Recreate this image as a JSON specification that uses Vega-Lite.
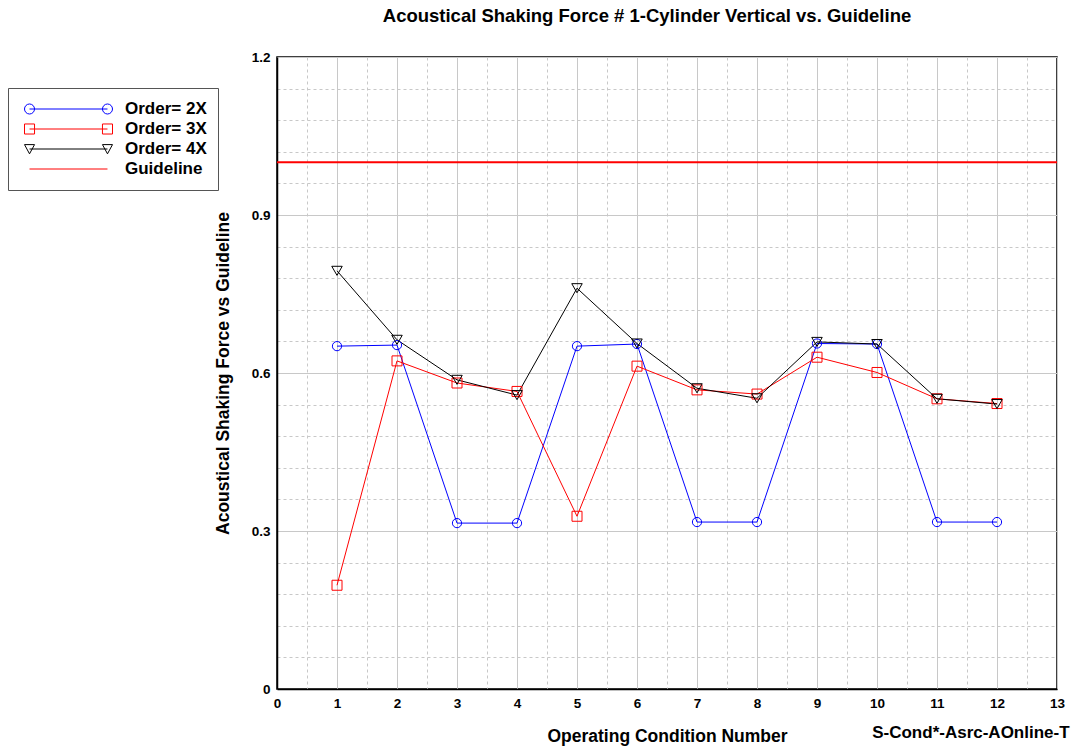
{
  "$schema": "https://vega.github.io/schema/vega-lite/v6.json",
  "width": 780,
  "height": 632,
  "autosize": {"type": "none"},
  "padding": {"left": 277, "top": 57, "right": 14, "bottom": 62},
  "background": "white",
  "title": {
    "text": "Acoustical Shaking Force # 1-Cylinder Vertical vs. Guideline",
    "font": "Liberation Sans",
    "fontSize": 18.5,
    "fontWeight": "bold",
    "color": "black",
    "anchor": "middle",
    "dx": -20,
    "offset": 25
  },
  "config": {
    "view": {"stroke": "black", "strokeWidth": 1.5},
    "axis": {
      "labelFont": "Liberation Sans",
      "labelFontWeight": "bold",
      "labelFontSize": 13.5,
      "labelColor": "black",
      "titleFont": "Liberation Sans",
      "titleFontWeight": "bold",
      "titleFontSize": 17.5,
      "titleColor": "black",
      "domainColor": "black",
      "domainWidth": 1.5,
      "ticks": false,
      "gridColor": "#c8c8c8",
      "gridWidth": 1,
      "labelOverlap": false,
      "labelFlush": false,
      "tickCount": 200
    },
    "legend": {
      "labelFont": "Liberation Sans",
      "labelFontWeight": "bold",
      "labelFontSize": 17,
      "labelColor": "black"
    }
  },
  "datasets": {
    "main": [
      {"cond": 1, "series": "Order= 2X", "value": 0.651},
      {"cond": 2, "series": "Order= 2X", "value": 0.653},
      {"cond": 3, "series": "Order= 2X", "value": 0.315},
      {"cond": 4, "series": "Order= 2X", "value": 0.315},
      {"cond": 5, "series": "Order= 2X", "value": 0.651},
      {"cond": 6, "series": "Order= 2X", "value": 0.655},
      {"cond": 7, "series": "Order= 2X", "value": 0.317},
      {"cond": 8, "series": "Order= 2X", "value": 0.317},
      {"cond": 9, "series": "Order= 2X", "value": 0.656},
      {"cond": 10, "series": "Order= 2X", "value": 0.655},
      {"cond": 11, "series": "Order= 2X", "value": 0.317},
      {"cond": 12, "series": "Order= 2X", "value": 0.317},
      {"cond": 1, "series": "Order= 3X", "value": 0.197},
      {"cond": 2, "series": "Order= 3X", "value": 0.623},
      {"cond": 3, "series": "Order= 3X", "value": 0.581},
      {"cond": 4, "series": "Order= 3X", "value": 0.565},
      {"cond": 5, "series": "Order= 3X", "value": 0.328},
      {"cond": 6, "series": "Order= 3X", "value": 0.613},
      {"cond": 7, "series": "Order= 3X", "value": 0.568},
      {"cond": 8, "series": "Order= 3X", "value": 0.560},
      {"cond": 9, "series": "Order= 3X", "value": 0.630},
      {"cond": 10, "series": "Order= 3X", "value": 0.601},
      {"cond": 11, "series": "Order= 3X", "value": 0.551},
      {"cond": 12, "series": "Order= 3X", "value": 0.542},
      {"cond": 1, "series": "Order= 4X", "value": 0.794},
      {"cond": 2, "series": "Order= 4X", "value": 0.663},
      {"cond": 3, "series": "Order= 4X", "value": 0.587},
      {"cond": 4, "series": "Order= 4X", "value": 0.558},
      {"cond": 5, "series": "Order= 4X", "value": 0.761},
      {"cond": 6, "series": "Order= 4X", "value": 0.656},
      {"cond": 7, "series": "Order= 4X", "value": 0.571},
      {"cond": 8, "series": "Order= 4X", "value": 0.552},
      {"cond": 9, "series": "Order= 4X", "value": 0.659},
      {"cond": 10, "series": "Order= 4X", "value": 0.655},
      {"cond": 11, "series": "Order= 4X", "value": 0.551},
      {"cond": 12, "series": "Order= 4X", "value": 0.541}
    ],
    "legendItems": [
      {"series": "Order= 2X"},
      {"series": "Order= 3X"},
      {"series": "Order= 4X"},
      {"series": "Guideline"}
    ],
    "guide": [{"level": 1.0}],
    "note": [{"label": "S-Cond*-Asrc-AOnline-T", "x": 9.92, "y": -0.0835}]
  },
  "layer": [
    {
      "data": {"name": "guide"},
      "mark": {"type": "rule", "color": "red", "strokeWidth": 2},
      "encoding": {
        "y": {
          "field": "level",
          "type": "quantitative",
          "scale": {"domain": [0, 1.2], "nice": false, "zero": true},
          "axis": {
            "title": "Acoustical Shaking Force vs Guideline",
            "values": [0, 0.06, 0.12, 0.18, 0.24, 0.3, 0.36, 0.42, 0.48, 0.54, 0.6, 0.66, 0.72, 0.78, 0.84, 0.9, 0.96, 1.02, 1.08, 1.14, 1.2],
            "tickCount": 200,
            "format": "~g",
            "labelExpr": "round(datum.value*100) % 30 === 0 ? datum.label : ''",
            "gridDash": {"condition": {"test": "round(datum.value*100) % 30 !== 0", "value": [3, 3]}, "value": []},
            "labelPadding": 7,
            "titlePadding": 19
          }
        }
      }
    },
    {
      "data": {"name": "main"},
      "mark": {"type": "line", "strokeWidth": 1},
      "encoding": {
        "x": {
          "field": "cond",
          "type": "quantitative",
          "scale": {"domain": [0, 13], "nice": false},
          "axis": {
            "title": "Operating Condition Number",
            "values": [0, 0.5, 1, 1.5, 2, 2.5, 3, 3.5, 4, 4.5, 5, 5.5, 6, 6.5, 7, 7.5, 8, 8.5, 9, 9.5, 10, 10.5, 11, 11.5, 12, 12.5, 13],
            "tickCount": 200,
            "format": "~g",
            "labelExpr": "datum.value % 1 === 0 ? datum.label : ''",
            "gridDash": {"condition": {"test": "datum.value % 1 !== 0", "value": [3, 3]}, "value": []},
            "labelPadding": 7,
            "titlePadding": 18
          }
        },
        "y": {"field": "value", "type": "quantitative"},
        "color": {
          "field": "series",
          "type": "nominal",
          "scale": {"domain": ["Order= 2X", "Order= 3X", "Order= 4X"], "range": ["#0000ff", "#ff0000", "#000000"]},
          "legend": null
        }
      }
    },
    {
      "data": {"name": "main"},
      "transform": [{"filter": "datum.series === 'Order= 2X'"}],
      "mark": {"type": "point", "shape": "circle", "filled": false, "stroke": "#0000ff", "strokeWidth": 1, "size": 85, "opacity": 1},
      "encoding": {
        "x": {"field": "cond", "type": "quantitative"},
        "y": {"field": "value", "type": "quantitative"}
      }
    },
    {
      "data": {"name": "main"},
      "transform": [{"filter": "datum.series === 'Order= 3X'"}],
      "mark": {"type": "point", "shape": "square", "filled": false, "stroke": "#ff0000", "strokeWidth": 1, "size": 100, "opacity": 1},
      "encoding": {
        "x": {"field": "cond", "type": "quantitative"},
        "y": {"field": "value", "type": "quantitative"}
      }
    },
    {
      "data": {"name": "main"},
      "transform": [{"filter": "datum.series === 'Order= 4X'"}],
      "mark": {"type": "point", "shape": "triangle-down", "filled": false, "stroke": "#000000", "strokeWidth": 1, "size": 110, "opacity": 1},
      "encoding": {
        "x": {"field": "cond", "type": "quantitative"},
        "y": {"field": "value", "type": "quantitative"}
      }
    },
    {
      "data": {"name": "note"},
      "mark": {"type": "text", "align": "left", "baseline": "middle", "font": "Liberation Sans", "fontWeight": "bold", "fontSize": 17, "color": "black"},
      "encoding": {
        "x": {"field": "x", "type": "quantitative"},
        "y": {"field": "y", "type": "quantitative"},
        "text": {"field": "label"}
      }
    },
    {
      "data": {"name": "legendItems"},
      "mark": {"type": "point", "filled": false, "opacity": 0, "strokeWidth": 1},
      "encoding": {
        "shape": {
          "field": "series",
          "type": "nominal",
          "scale": {
            "domain": ["Order= 2X", "Order= 3X", "Order= 4X", "Guideline"],
            "range": [
              "M-0.772,0A0.114,0.114 0 1 0 -1,0A0.114,0.114 0 1 0 -0.772,0M-0.886,0L0.886,0M1,0A0.114,0.114 0 1 0 0.772,0A0.114,0.114 0 1 0 1,0",
              "M-1,-0.114L-0.772,-0.114L-0.772,0.114L-1,0.114ZM-0.886,0L0.886,0M0.772,-0.114L1,-0.114L1,0.114L0.772,0.114Z",
              "M-1,-0.1L-0.772,-0.1L-0.886,0.11ZM-0.886,0L0.886,0M0.772,-0.1L1,-0.1L0.886,0.11Z",
              "M-0.886,0L0.886,0"
            ]
          },
          "legend": {
            "title": null,
            "orient": "none",
            "legendX": -269,
            "legendY": 31,
            "symbolSize": 7744,
            "symbolOpacity": 1,
            "symbolStrokeWidth": 1,
            "symbolFillColor": "transparent",
            "symbolOffset": 5,
            "labelOffset": 12,
            "clipHeight": 20,
            "rowPadding": 0,
            "padding": 11,
            "strokeColor": "#555555"
          }
        },
        "stroke": {
          "field": "series",
          "type": "nominal",
          "scale": {
            "domain": ["Order= 2X", "Order= 3X", "Order= 4X", "Guideline"],
            "range": ["#0000ff", "#ff0000", "#000000", "#ff0000"]
          },
          "legend": {
            "title": null,
            "orient": "none",
            "legendX": -269,
            "legendY": 31,
            "symbolSize": 7744,
            "symbolOpacity": 1,
            "symbolStrokeWidth": 1,
            "symbolFillColor": "transparent",
            "symbolOffset": 5,
            "labelOffset": 12,
            "clipHeight": 20,
            "rowPadding": 0,
            "padding": 11,
            "strokeColor": "#555555"
          }
        }
      }
    }
  ]
}
